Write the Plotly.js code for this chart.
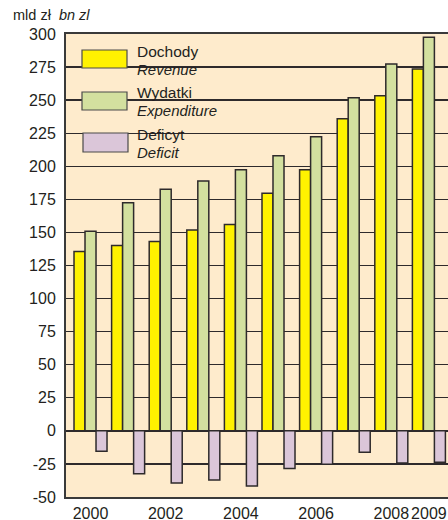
<!DOCTYPE html>
<html>
<head>
<meta charset="utf-8">
<script src="https://cdn.plot.ly/plotly-3.0.1.min.js"></script>
<style>
  html, body { margin: 0; padding: 0; background: #ffffff; overflow: hidden; }
  #chart { width: 448px; height: 520px; }
</style>
</head>
<body>
<div id="chart"></div>
<script>
// ---- data ----
const years = [2000, 2001, 2002, 2003, 2004, 2005, 2006, 2007, 2008, 2009];
const revenue = [135.5, 140.2, 143.2, 151.8, 156.0, 179.6, 197.3, 236.0, 253.3, 273.5];
const expenditure = [150.8, 172.5, 182.6, 188.9, 197.4, 207.9, 222.3, 251.8, 277.4, 297.5];
const deficit = [-15.5, -32.4, -39.4, -37.1, -41.6, -28.4, -25.3, -16.1, -24.3, -23.8];
const seriesPL = ['Dochody', 'Wydatki', 'Deficyt'];
const seriesEN = ['Revenue', 'Expenditure', 'Deficit'];
const xTickVals = [2000, 2002, 2004, 2006, 2008, 2009];
const xTickText = ['2000', '2002', '2004', '2006', '2008', '2009'];
const yTickVals = [-50, -25, 0, 25, 50, 75, 100, 125, 150, 175, 200, 225, 250, 275, 300];
const yTickText = ['-50', '-25', '0', '25', '50', '75', '100', '125', '150', '175', '200', '225', '250', '275', '300'];
const unitPL = 'mld zł';
const unitEN = 'bn zl';

// ---- style ----
const FONT = '"Liberation Sans", Arial, Helvetica, sans-serif';
const TXT = '#231f20';
const colors = ['#fff200', '#d3e09f', '#dbc6d9'];
const edge = '#2e2a2b';
const plotBg = '#feebcc';

const W = 448, H = 520, ML = 66, MR = 0, MT = 34, MB = 23;
const PW = W - ML - MR, PH = H - MT - MB;
const px = x => (x - ML) / PW;
const py = y => (H - MB - y) / PH;

const values = [revenue, expenditure, deficit];
const traces = values.map((v, i) => ({
  type: 'bar',
  x: years,
  y: v,
  name: seriesPL[i] + ' / ' + seriesEN[i],
  marker: { color: colors[i], line: { color: edge, width: 1.5 } },
  hoverinfo: 'x+y'
}));

// custom legend
const shapes = [{
  type: 'rect', xref: 'paper', yref: 'paper', layer: 'between',
  x0: px(67.5), x1: px(219), y0: py(158), y1: py(35.5),
  fillcolor: plotBg, line: { width: 0 }
}];
const annotations = [{
  xref: 'paper', yref: 'paper', x: px(12), y: py(15), xanchor: 'left', yanchor: 'middle',
  text: unitPL + '  <i>' + unitEN + '</i>', showarrow: false, borderpad: 0,
  font: { family: FONT, size: 14.5, color: TXT }
}];
const sw = [[50, 68], [92, 110], [133, 152]];
const txtY = [[51, 69], [93, 111], [134.5, 152.5]];
for (let i = 0; i < 3; i++) {
  shapes.push({
    type: 'rect', xref: 'paper', yref: 'paper', layer: 'above',
    x0: px(82 + (i === 2 ? 1 : 0)), x1: px(127 + (i === 2 ? 1 : 0)),
    y0: py(sw[i][1]), y1: py(sw[i][0]),
    fillcolor: colors[i], line: { color: '#4a4a4a', width: 1.2 }
  });
  annotations.push({
    xref: 'paper', yref: 'paper', x: px(136), y: py(txtY[i][0]), xanchor: 'left', yanchor: 'middle',
    text: seriesPL[i], showarrow: false, borderpad: 0, font: { family: FONT, size: 15.5, color: TXT }
  });
  annotations.push({
    xref: 'paper', yref: 'paper', x: px(136), y: py(txtY[i][1]), xanchor: 'left', yanchor: 'middle',
    text: '<i>' + seriesEN[i] + '</i>', showarrow: false, borderpad: 0, font: { family: FONT, size: 15, color: TXT }
  });
}

const layout = {
  width: W, height: H,
  margin: { l: ML, r: MR, t: MT, b: MB, pad: 0 },
  paper_bgcolor: '#ffffff',
  plot_bgcolor: plotBg,
  showlegend: false,
  barmode: 'group',
  bargap: 0.122,
  bargroupgap: 0,
  font: { family: FONT, size: 16, color: TXT },
  xaxis: {
    range: [1999.348, 2009.508],
    tickvals: xTickVals, ticktext: xTickText,
    tickangle: 0, automargin: false,
    showgrid: false, zeroline: false,
    showline: true, linecolor: '#3a3a3a', linewidth: 2, mirror: true,
    ticks: '', ticklabelstandoff: 1,
    tickfont: { family: FONT, size: 16, color: TXT }
  },
  yaxis: {
    range: [-50, 300], automargin: false,
    tickvals: yTickVals, ticktext: yTickText,
    showgrid: true, gridcolor: '#2e2a2b', gridwidth: 1.3,
    zeroline: true, zerolinecolor: '#2e2a2b', zerolinewidth: 1.3,
    showline: true, linecolor: '#3a3a3a', linewidth: 2,
    ticks: '', ticklabelstandoff: 5,
    tickfont: { family: FONT, size: 16, color: TXT }
  },
  shapes: shapes,
  annotations: annotations
};

Plotly.newPlot('chart', traces, layout, { displayModeBar: false, staticPlot: true });
</script>
</body>
</html>
